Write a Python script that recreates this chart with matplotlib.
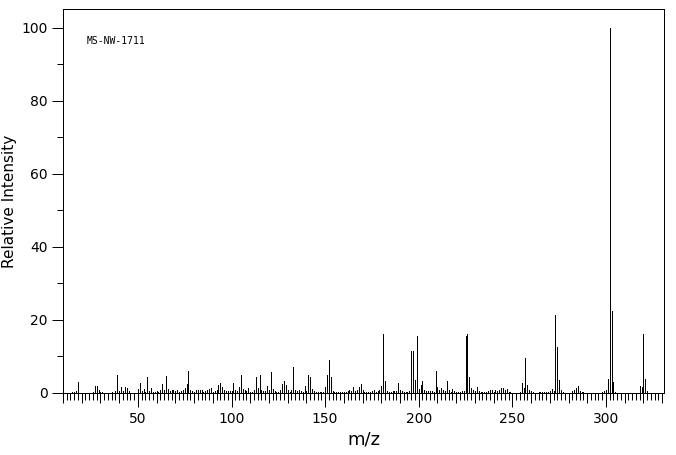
import matplotlib
matplotlib.use("Agg")
import matplotlib.pyplot as plt
from matplotlib.ticker import MultipleLocator, NullFormatter

mz = [15, 16, 17, 18,
      26, 27, 28, 29, 30, 31,
      36, 38, 39, 40, 41, 42, 43, 44, 45,
      50, 51, 52, 53, 54, 55, 56, 57, 58, 59, 60, 61, 62, 63, 64, 65, 66, 67, 68, 69,
      70, 71, 72, 73, 74, 75, 76, 77, 78, 79, 80, 81, 82, 83, 84, 85, 86, 87, 88, 89,
      90, 91, 92, 93, 94, 95, 96, 97, 98, 99, 100, 101, 102, 103, 104, 105, 106, 107, 108, 109,
      110, 111, 112, 113, 114, 115, 116, 117, 118, 119, 120, 121, 122, 123, 124, 125, 126, 127, 128, 129,
      130, 131, 132, 133, 134, 135, 136, 137, 138, 139, 140, 141, 142, 143, 144, 145, 146, 147, 148, 149,
      150, 151, 152, 153, 154, 155, 156, 157, 158, 159, 160, 161, 162, 163, 164, 165, 166, 167, 168, 169,
      170, 171, 172, 173, 174, 175, 176, 177, 178, 179, 180, 181, 182, 183, 184, 185, 186, 187, 188, 189,
      190, 191, 192, 193, 194, 195, 196, 197, 198, 199, 200, 201, 202, 203, 204, 205, 206, 207, 208, 209,
      210, 211, 212, 213, 214, 215, 216, 217, 218, 219, 220, 221, 222, 223, 224, 225, 226, 227, 228, 229,
      230, 231, 232, 233, 234, 235, 236, 237, 238, 239, 240, 241, 242, 243, 244, 245, 246, 247, 248, 249,
      254, 255, 256, 257, 258, 259, 260, 261,
      264, 265, 266, 267, 268, 269, 270, 271, 272, 273, 274, 275, 276, 277,
      282, 283, 284, 285, 286, 287, 288,
      298, 299, 300, 301, 302, 303, 304, 305,
      318, 319, 320, 321, 322]

intensity = [0.4, 0.4, 0.6, 3.1,
             0.4, 2.0, 2.0, 0.9, 0.4, 0.4,
             0.4, 0.6, 4.8, 0.6, 1.7, 0.6, 1.6, 1.4, 0.6,
             1.2, 2.8, 0.6, 1.1, 0.4, 4.5, 0.6, 1.5, 0.4, 0.4, 0.6, 0.4, 0.9, 2.5, 0.9, 4.7, 1.2, 0.6, 0.9, 0.9,
             0.6, 0.9, 0.4, 0.6, 0.9, 1.5, 2.5, 6.1, 0.9, 0.6, 0.4, 0.9, 0.9, 0.9, 0.9, 0.4, 0.6, 0.9, 1.1, 1.4,
             0.4, 0.6, 0.9, 2.3, 2.8, 1.7, 0.9, 0.6, 0.6, 0.6, 0.6, 2.8, 0.9, 0.6, 1.7, 4.8, 1.0, 0.9, 0.6, 1.4,
             0.4, 0.4, 0.9, 4.5, 1.4, 5.0, 0.9, 0.6, 0.6, 2.0, 0.9, 5.7, 1.2, 0.6, 0.4, 0.4, 0.9, 2.5, 3.2, 2.3,
             0.9, 0.4, 0.9, 7.2, 0.9, 0.6, 0.9, 0.6, 0.4, 2.0, 0.6, 4.8, 4.5, 1.2, 0.6, 0.4, 0.4, 0.4, 0.4, 0.4,
             1.7, 4.8, 9.1, 4.5, 0.6, 0.4, 0.4, 0.4, 0.4, 0.4, 0.4, 0.4, 0.6, 0.9, 0.6, 1.7, 0.6, 0.9, 1.7, 2.5,
             0.9, 0.4, 0.4, 0.4, 0.4, 0.6, 0.9, 0.4, 0.6, 0.9, 2.0, 16.2, 3.2, 0.6, 0.4, 0.4, 0.6, 0.6, 0.6, 2.8,
             0.9, 0.6, 0.4, 0.4, 0.4, 0.6, 11.6, 11.6, 3.6, 15.7, 1.2, 2.3, 3.2, 0.9, 0.6, 0.6, 0.6, 0.6, 0.4, 6.1,
             1.7, 0.9, 1.4, 0.9, 0.6, 3.2, 0.9, 0.4, 1.2, 0.6, 0.4, 0.4, 0.4, 0.6, 0.6, 15.7, 16.2, 4.5, 1.4, 0.9,
             0.6, 1.7, 0.6, 0.4, 0.4, 0.4, 0.4, 0.6, 0.9, 0.9, 0.4, 0.9, 0.6, 0.9, 1.4, 1.4, 0.9, 1.2, 0.4, 0.4,
             0.4, 2.8, 1.5, 9.7, 2.3, 0.9, 0.6, 0.4,
             0.4, 0.4, 0.4, 0.4, 0.4, 0.4, 0.6, 1.2, 0.6, 21.4, 12.5, 3.5, 0.9, 0.4,
             0.6, 0.9, 1.4, 2.0, 0.6, 0.4, 0.4,
             0.4, 0.6, 0.9, 3.9, 100.0, 22.5, 3.1, 0.4,
             2.0, 1.7, 16.2, 3.7, 0.6]

sample_label = "MS-NW-1711"
x_label = "m/z"
y_label = "Relative Intensity"

LW = 0.72  # 1 pixel at 100 dpi

fig = plt.figure(figsize=(6.76, 4.55), dpi=100)
ax = fig.add_axes([63 / 676, 1 - 393 / 455, (664 - 63) / 676, (393 - 9) / 455])

ax.vlines(mz, 0, intensity, colors="black", linewidth=0.6, antialiased=False)

ax.set_xlim(10, 331)
ax.set_ylim(0, 105.2)

for s in ax.spines.values():
    s.set_linewidth(LW)
    s.set_color("black")

ax.xaxis.set_major_locator(MultipleLocator(50))
ax.xaxis.set_minor_locator(MultipleLocator(2))
ax.yaxis.set_major_locator(MultipleLocator(20))
ax.yaxis.set_minor_locator(MultipleLocator(10))
ax.tick_params(axis="x", which="major", direction="out", length=10, width=LW, pad=4, labelsize=10)
ax.tick_params(axis="x", which="minor", direction="out", length=5, width=LW)
ax.tick_params(axis="y", which="major", direction="out", length=8, width=LW, pad=3, labelsize=10)
ax.tick_params(axis="y", which="minor", direction="out", length=4, width=LW)

sec = ax.secondary_xaxis("bottom")
sec.xaxis.set_major_locator(MultipleLocator(10))
sec.xaxis.set_major_formatter(NullFormatter())
sec.tick_params(axis="x", which="major", direction="out", length=7, width=LW)
sec.spines["bottom"].set_visible(False)

ax.set_xlabel(x_label, fontsize=13, labelpad=3)
ax.set_ylabel(y_label, fontsize=11, labelpad=3)

ax.text(0.04, 0.917, sample_label, transform=ax.transAxes, fontsize=7,
        family="DejaVu Sans Mono", va="center", ha="left")

fig.savefig("out.png", dpi=100)
